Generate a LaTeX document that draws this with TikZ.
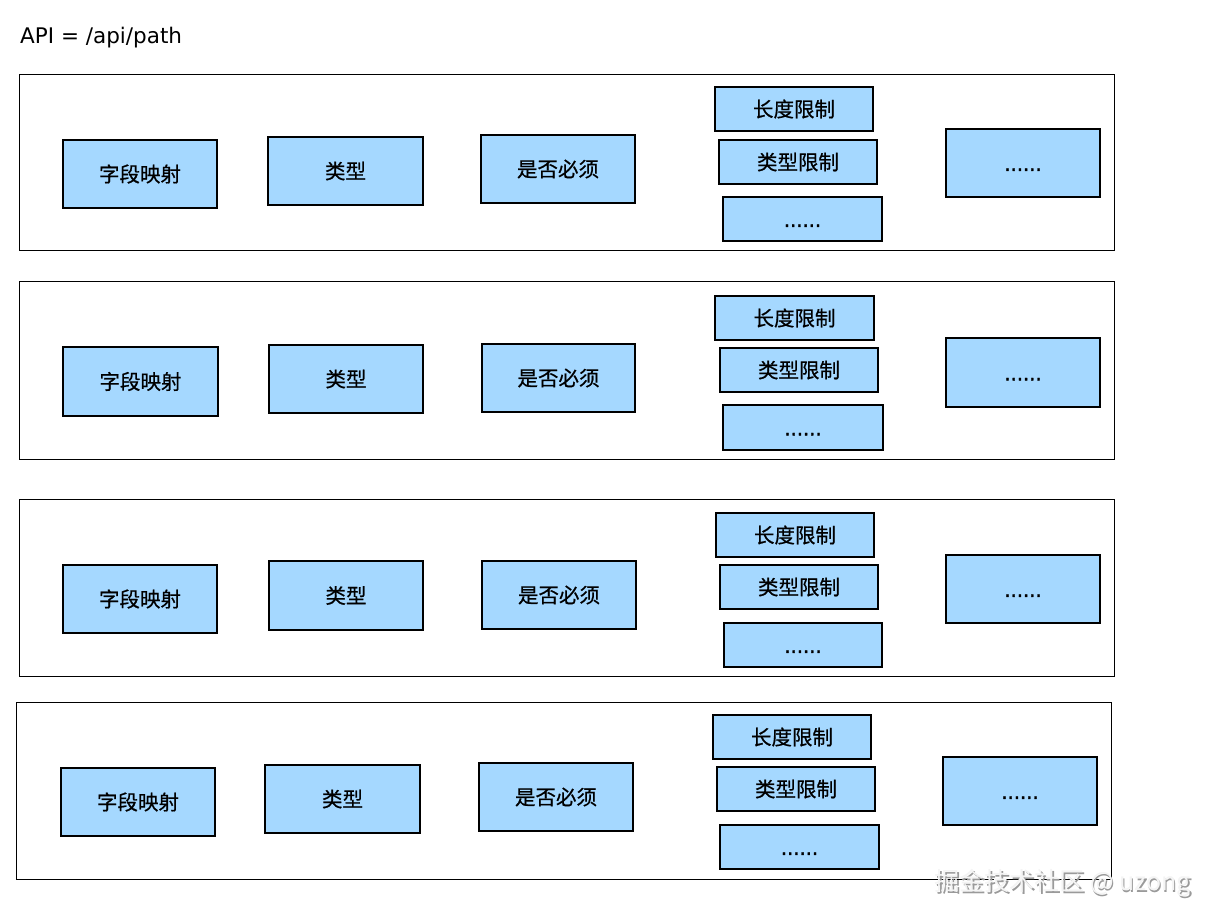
\documentclass[tikz,border=0pt]{standalone}
\usepackage{fontspec}
\newfontfamily\cjk[FakeBold=0.7]{Noto Sans CJK SC}
\newfontfamily\cjkwm{Noto Sans CJK SC}
\newfontfamily\hand{DejaVu Sans}
\definecolor{boxblue}{HTML}{A5D8FF}
\definecolor{wmshadow}{HTML}{9A9A9A}
\definecolor{wmface}{HTML}{F4F4F4}
\newcommand\dd{\vphantom{字}{\fontspec{DejaVu Sans}[FakeBold=1.5]\fontsize{19.5}{22}\selectfont......}}
\begin{document}
\begin{tikzpicture}[x=1pt,y=-1pt,
  frame/.style={draw=black,line width=0.9pt},
  blk/.style={draw=black,line width=1.4pt,fill=boxblue,inner sep=0pt,
    font=\cjk\fontsize{20.5}{22}\selectfont,text=black}]
\useasboundingbox (0,0) rectangle (1216,924);
\node[anchor=west,inner sep=0pt,font=\hand\fontsize{21.5}{24}\selectfont] (title) at (20,38) {API = /api/path};
% frames
\foreach \n/\xa/\ya/\xb/\yb in {f1/19/74/1114/250, f2/19/281/1114/459, f3/19/499/1114/676, f4/16/702/1111/879}{
  \draw[frame] (\xa,\ya) rectangle (\xb,\yb);
}
% boxes
\foreach \n/\xa/\ya/\xb/\yb/\t in {
 a1/63/140/217/208/字段映射, b1/268/137/423/205/类型, c1/481/135/635/203/是否必须,
 d1/715/87/873/131/长度限制, e1/719/140/877/184/类型限制, g1/723/197/882/241/\dd, h1/946/129/1100/197/\dd,
 a2/63/347/218/416/字段映射, b2/269/345/423/413/类型, c2/482/344/635/412/是否必须,
 d2/715/296/874/340/长度限制, e2/720/348/878/392/类型限制, g2/723/405/883/450/\dd, h2/946/338/1100/407/\dd,
 a3/63/565/217/633/字段映射, b3/269/561/423/630/类型, c3/482/561/636/629/是否必须,
 d3/716/513/874/557/长度限制, e3/720/565/878/609/类型限制, g3/724/623/882/667/\dd, h3/946/555/1100/623/\dd,
 a4/61/768/215/836/字段映射, b4/265/765/420/833/类型, c4/479/763/633/831/是否必须,
 d4/713/715/871/759/长度限制, e4/717/767/875/811/类型限制, g4/720/825/879/869/\dd, h4/943/757/1097/825/\dd}{
  \pgfmathsetmacro\cx{(\xa+\xb)/2}
  \pgfmathsetmacro\cy{(\ya+\yb)/2}
  \pgfmathsetmacro\w{\xb-\xa}
  \pgfmathsetmacro\h{\yb-\ya}
  \node[blk,minimum width=\w pt,minimum height=\h pt] (\n) at (\cx,\cy) {\t};
}
\node[anchor=west,inner sep=0pt,text=wmshadow,font=\cjkwm\fontsize{25}{27}\selectfont] (wmshade) at (935.8,884.8) {掘金技术社区 @ uzong};
\node[anchor=west,inner sep=0pt,text=wmface,font=\cjkwm\fontsize{25}{27}\selectfont] (wmark) at (934.5,883.5) {掘金技术社区 @ uzong};
\end{tikzpicture}
\end{document}
